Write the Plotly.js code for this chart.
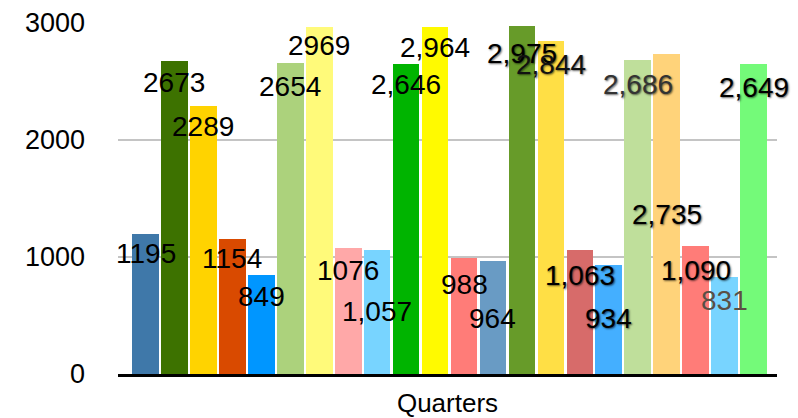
<!DOCTYPE html>
<html>
<head>
<meta charset="utf-8">
<script src="https://cdn.plot.ly/plotly-3.0.1.min.js"></script>
<style>html,body{margin:0;padding:0;background:#fff;}#chart{width:798px;height:418px;}</style>
</head>
<body>
<div id="chart"></div>
<script>
// ---- data ----
var categories = ["S1","S2","S3","S4","S5","S6","S7","S8","S9","S10","S11",
                  "S12","S13","S14","S15","S16","S17","S18","S19","S20","S21","S22"];
var values = [1195, 2673, 2289, 1154, 849, 2654, 2969, 1076, 1057, 2646, 2964,
              988, 964, 2975, 2844, 1063, 934, 2686, 2735, 1090, 831, 2649];
var useComma = [false,false,false,false,false,false,false,false,true,true,true,
                false,false,true,true,true,false,true,true,true,false,true];
var yTicks = [0, 1000, 2000, 3000];
var xTitle = "Quarters";

// ---- styles ----
var barColors = ["#3f78a9","#3d7200","#ffd300","#d94a00","#0096ff","#acd27c","#fffa7a",
                 "#ffa8a8","#78d4ff","#00b400","#fffa00","#ff7c78","#699bc4","#679b29",
                 "#ffdf45","#d76b6a","#44afff","#bfdf9b","#ffd37a","#ff7c78","#78d4ff","#74fa79"];
var labelDrop = [19,21,20,20,22,23,19,22,61,20,20,26,57,28,23,26,54,25,160,24,24,23];
var labelColor = ["#000","#000","#000","#000","#000","#000","#000","#000","#000","#000","#000",
                  "#000","#000","#000","#111","#000","#000","#333","#000","#000","#5a4f45","#000"];
var labelShadow = [0,0,0,0,0,0,0,0,0,0,0,0,0,1,1,1,1,1,1,1,0,1];

function fmt(v, comma) {
  var s = String(v);
  return comma ? s.replace(/\B(?=(\d{3})+(?!\d))/g, ",") : s;
}

var trace = {
  type: "bar",
  x: categories,
  y: values,
  width: 0.92,
  marker: {color: barColors, line: {width: 0}},
  hoverinfo: "skip"
};

var annotations = values.map(function (v, i) {
  return {
    x: categories[i], y: v, xref: "x", yref: "y",
    text: fmt(v, useComma[i]),
    showarrow: false,
    yanchor: "middle", xanchor: "center",
    yshift: -labelDrop[i],
    font: {family: "Liberation Sans, Arial, sans-serif", size: 28, color: labelColor[i],
           shadow: labelShadow[i] ? "1px 1px 2px rgba(0,0,0,0.6)" : "none"}
  };
});

var layout = {
  width: 798, height: 418,
  margin: {l: 118, r: 21, t: 23, b: 44, pad: 0},
  paper_bgcolor: "#fff", plot_bgcolor: "#fff",
  font: {family: "Liberation Sans, Arial, sans-serif", size: 28, color: "#000"},
  showlegend: false,
  bargap: 0,
  xaxis: {
    type: "category",
    range: [-0.95, 21.81],
    showticklabels: false,
    ticks: "",
    showgrid: false,
    zeroline: false,
    showline: true, linecolor: "#000", linewidth: 2.5,
    title: {text: xTitle, font: {size: 26, color: "#000"}, standoff: 20},
    fixedrange: true
  },
  yaxis: {
    range: [0, 3000],
    tickvals: yTicks,
    ticktext: yTicks.map(String),
    tickfont: {size: 27, color: "#000"},
    ticklabelstandoff: 32,
    showgrid: true, gridcolor: "#c4c4c4", gridwidth: 2,
    zeroline: false,
    showline: false,
    ticks: "",
    fixedrange: true
  },
  annotations: annotations
};

Plotly.newPlot("chart", [trace], layout, {staticPlot: true, displayModeBar: false});
</script>
</body>
</html>
